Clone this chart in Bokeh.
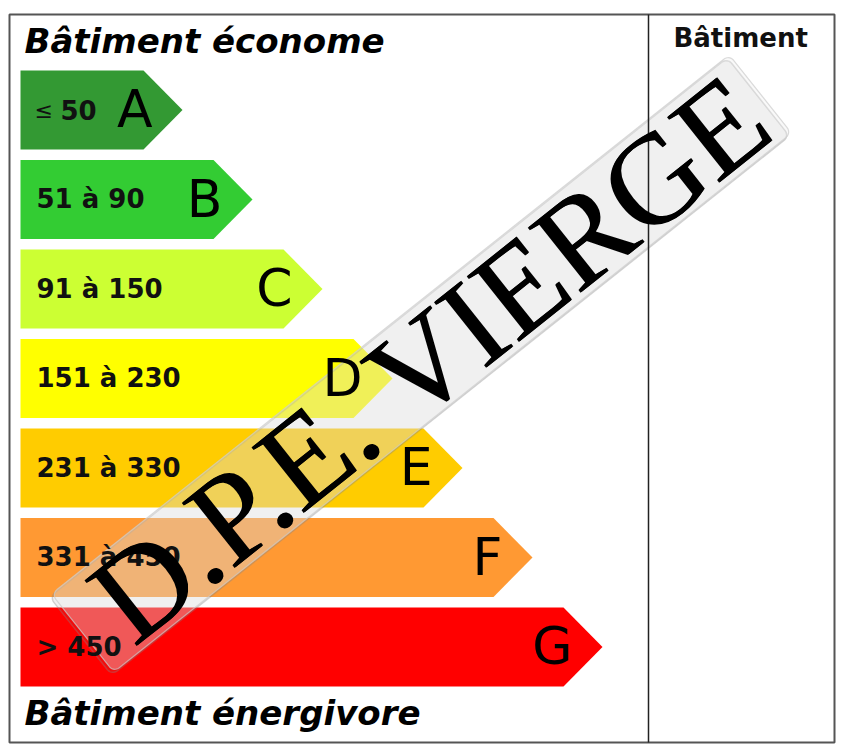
import math
from bokeh.plotting import figure
from bokeh.models import Range1d
from bokeh.core.properties import value
from bokeh.embed import file_html
from bokeh.resources import INLINE

# ---- data ----
classes = ["A", "B", "C", "D", "E", "F", "G"]
range_labels = ["50", "51 à 90", "91 à 150", "151 à 230", "231 à 330", "331 à 450", "> 450"]
class_colors = ["#339933", "#33cc33", "#ccff33", "#ffff00", "#ffcc00", "#ff9933", "#ff0000"]
header_top = "Bâtiment économe"
header_bottom = "Bâtiment énergivore"
column_title = "Bâtiment"
le_symbol = "≤"
stamp_text = "D.P.E. VIERGE"

# ---- layout (page pixel coordinates) ----
W, H = 840, 748
p = figure(width=W, height=H, output_backend="svg", toolbar_location=None,
           x_range=Range1d(0, W), y_range=Range1d(H, 0),
           min_border=0, outline_line_color=None)
p.axis.visible = False
p.grid.visible = False
p.background_fill_color = "white"
p.border_fill_color = "white"

K = 0.38  # baseline correction factor (fraction of font size)


def base(y, fs):
    return y - K * fs

bar_left, top0, step, bar_h = 20, 70, 89.5, 79
body0, body_step, tip = 143, 70, 39

xs, ys, letter_x, letter_y, lab_x, lab_y = [], [], [], [], [], []
for i, c in enumerate(classes):
    top = top0 + step * i
    body = body0 + body_step * i
    mid = top + bar_h / 2
    xs.append([bar_left, body, body + tip, body, bar_left])
    ys.append([top, top, mid, top + bar_h, top + bar_h])
    letter_x.append(body + 9)
    letter_y.append(base(mid + 19, 52))
    lab_x.append(60 if i == 0 else 36)
    lab_y.append(base(mid + 9.5, 26))

p.patches(xs=xs, ys=ys, fill_color=class_colors, line_color=None)

# stamp band (rounded rectangle rotated)
deg = 38.5
ang = math.radians(deg)
cx, cy, L, Wd, r = 421, 363, 866, 100, 7
ux, uy = math.cos(ang), -math.sin(ang)
vx, vy = math.sin(ang), math.cos(ang)


def rounded(cx, cy, L, Wd, r):
    pts = []
    corners = [(L / 2 - r, -Wd / 2 + r, -90), (L / 2 - r, Wd / 2 - r, 0),
               (-L / 2 + r, Wd / 2 - r, 90), (-L / 2 + r, -Wd / 2 + r, 180)]
    for (a, b, start) in corners:
        for k in range(7):
            t = math.radians(start + 15 * k)
            la, lb = a + r * math.cos(t), b + r * math.sin(t)
            pts.append((cx + la * ux + lb * vx, cy + la * uy + lb * vy))
    return [q[0] for q in pts], [q[1] for q in pts]

sx, sy = rounded(cx - 2, cy + 3, L, Wd, r)
p.patch(sx, sy, fill_color="#777777", fill_alpha=0.10, line_color="#888888",
        line_alpha=0.35, line_width=1.5)
bx, by = rounded(cx, cy, L, Wd, r)
p.patch(bx, by, fill_color="#eeeeee", fill_alpha=0.34, line_color="#cccccc",
        line_alpha=0.7, line_width=1.2)

p.text(x=letter_x, y=letter_y, text=classes, text_align="right", text_baseline="alphabetic",
       text_font=value("DejaVu Sans"), text_font_size="52px", text_color="black")
p.text(x=lab_x, y=lab_y, text=range_labels, text_align="left", text_baseline="alphabetic",
       text_font=value("DejaVu Sans"), text_font_style="bold", text_font_size="26px",
       text_color="#111111")
p.text(x=[34], y=[base(108.5 + 9.5, 22)], text=[le_symbol], text_align="left",
       text_baseline="alphabetic",
       text_font=value("DejaVu Sans"), text_font_size="22px", text_color="#111111")

# headers
p.text(x=[24], y=[base(53, 34)], text=[header_top], text_baseline="alphabetic",
       text_font=value("DejaVu Sans"), text_font_style="bold italic", text_font_size="34px",
       text_color="black")
p.text(x=[24], y=[base(725, 34)], text=[header_bottom], text_baseline="alphabetic",
       text_font=value("DejaVu Sans"), text_font_style="bold italic", text_font_size="34px",
       text_color="black")
p.text(x=[673], y=[base(47, 26)], text=[column_title], text_baseline="alphabetic",
       text_font=value("DejaVu Sans"), text_font_style="bold", text_font_size="26px",
       text_color="#111111")

# frame
p.quad(left=[9], right=[834], top=[14], bottom=[742], fill_color=None,
       line_color="#555555", line_width=2)
p.segment(x0=[648], y0=[14], x1=[648], y1=[742], line_color="#222222", line_width=1.5)

# stamp text (drawn twice, slightly offset, for a heavier stamp look)
fs_stamp = 128
bxl, byl = 460, 395  # desired baseline centre
for d in (-0.6, 0.6):
    p.text(x=[bxl - K * fs_stamp * vx + d * ux], y=[byl - K * fs_stamp * vy + d * uy],
           text=[stamp_text], angle=deg, angle_units="deg",
           text_align="center", text_baseline="alphabetic",
           text_font=value("Liberation Serif"), text_font_size=f"{fs_stamp}px",
           text_color="black")

open("out.html", "w").write(file_html(p, INLINE))
